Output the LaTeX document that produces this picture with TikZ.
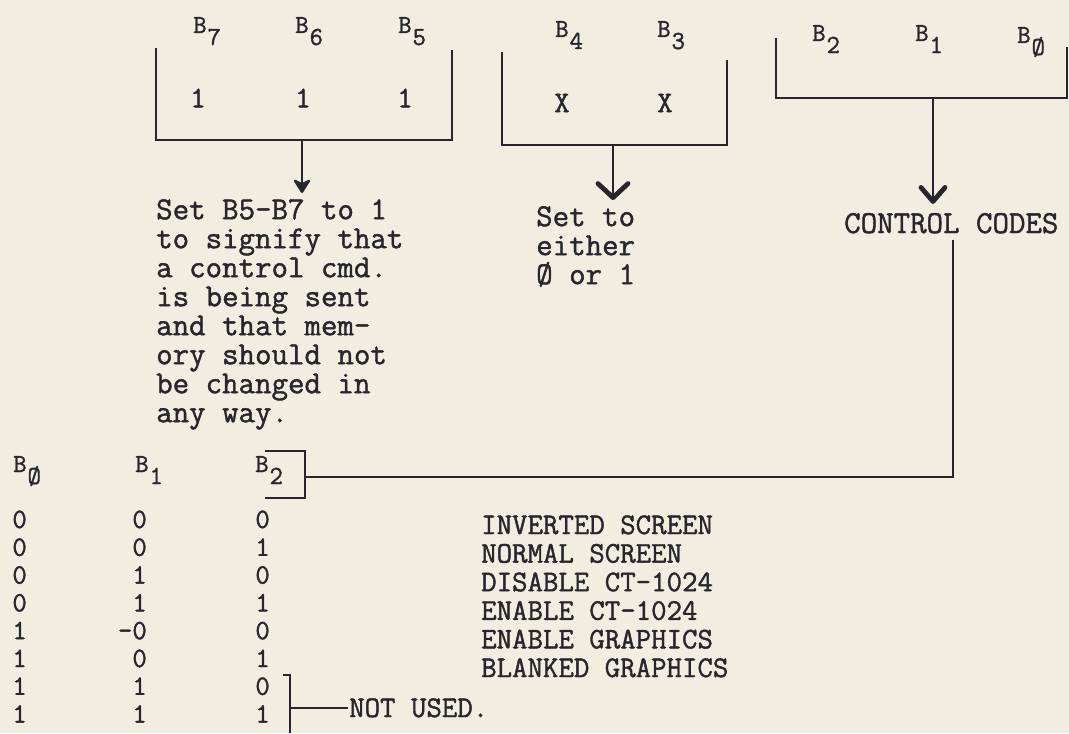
\documentclass[tikz,border=0pt]{standalone}
\usepackage{fontspec}
\setmonofont{Latin Modern Mono}[FakeBold=1.3]
\usetikzlibrary{arrows.meta}
\definecolor{paper}{HTML}{F1EDE1}
\definecolor{ink}{HTML}{26262C}
\tikzset{
  every picture/.style={line width=1.2pt, color=ink},
  bar/.style={draw=ink, line width=1.2pt},
  hdr/.style={font=\ttfamily, anchor=base west, inner sep=0pt},
  val/.style={font=\ttfamily\fontsize{15}{15}\selectfont, inner sep=0pt},
  note/.style={font=\ttfamily\fontsize{16}{14.5}\selectfont, align=left, anchor=north west, inner sep=0pt},
  cell/.style={font=\ttfamily\fontsize{14}{14}\selectfont, anchor=base east, inner sep=0pt},
  code/.style={font=\ttfamily\fontsize{15}{15}\selectfont, anchor=base west, inner sep=0pt},
  fatarrow/.style={-{Stealth[length=8pt, width=10pt, inset=2.5pt, round]}, draw=ink, line width=1.2pt},
  barb/.style={-{Straight Barb[length=7pt, width=#1, line width=2.4pt, round]}, draw=ink, line width=1.2pt},
  barb/.default=14pt,
}
\begin{document}
\begin{tikzpicture}[x=0.5pt, y=-0.5pt]
  \newcommand{\bit}[1]{{\fontsize{13}{13}\selectfont B}\kern0.5pt\raisebox{-6pt}{\fontsize{13}{13}\selectfont #1}}
  \fill[paper] (0,0) rectangle (1069,733);
  \useasboundingbox (0,0) rectangle (1069,733);

  % upper bits B7..B5
  \node[hdr] (b7) at (192,33) {\bit{7}};
  \node[hdr] (b6) at (294,33) {\bit{6}};
  \node[hdr] (b5) at (397,33) {\bit{5}};
  \node[val] (v7) at (198,98) {1};
  \node[val] (v6) at (303,98) {1};
  \node[val] (v5) at (405,98) {1};
  \draw[bar] (156,48) |- (452,140) -- (452,50);
  \coordinate (k1) at (302,140);
  \node[note] (setnote) at (155,198) {Set B5-B7 to 1\\to signify that\\a control cmd.\\is being sent\\and that mem-\\ory should not\\be changed in\\any way.};
  \draw[fatarrow, shorten >=2.5pt] (k1) -- (k1 |- setnote.north);

  % don't care bits B4, B3
  \node[hdr] (b4) at (554,37) {\bit{4}};
  \node[hdr] (b3) at (656,37) {\bit{3}};
  \node[val] (v4) at (562,103) {X};
  \node[val] (v3) at (665,103) {X};
  \draw[bar] (502,52) |- (727,145) -- (727,60);
  \coordinate (k2) at (613,145);
  \node[note] (eithernote) at (535,205) {Set to\\either\\Ø or 1};
  \draw[barb=15pt, shorten >=2.5pt] (k2) -- (k2 |- eithernote.north);

  % control bits B2..B0
  \node[hdr] (b2) at (811,41) {\bit{2}};
  \node[hdr] (b1) at (914,41) {\bit{1}};
  \node[hdr] (b0) at (1016,43) {\bit{Ø}};
  \draw[bar] (776,38) |- (1067,98) -- (1067,47);
  \coordinate (k3) at (933,98);
  \node[code, font=\ttfamily\fontsize{16}{16}\selectfont] (ctrl) at (843,233) {CONTROL CODES};
  \draw[barb=12pt, shorten >=4pt] (k3) -- (k3 |- ctrl.north);

  % table of codes
  \node[hdr] (t0) at (12,472) {\bit{Ø}};
  \node[hdr] (t1) at (134,472) {\bit{1}};
  \node[hdr] (t2) at (254,472) {\bit{2}};
  \draw[bar] (265,451) -| (305,498) -- (265,498);
  \coordinate (tbr) at (305,477);
  \coordinate (turn) at (953,477);
  \draw[bar, shorten <=2.5pt] (ctrl.south -| turn) -- (turn) -- (tbr);

  \foreach \a/\b/\c [count=\i from 0] in {0/0/0, 0/0/1, 0/1/0, 0/1/1, 1/-0/0, 1/0/1, 1/1/0, 1/1/1} {
    \node[cell] (ca-\i) at (28,528+27.8*\i) {\a};
    \node[cell] (cb-\i) at (148,528+27.8*\i) {\b};
    \node[cell] (cc-\i) at (271,528+27.8*\i) {\c};
  }
  \foreach \t [count=\i from 0] in {INVERTED SCREEN, NORMAL SCREEN, DISABLE CT-1024, ENABLE CT-1024, ENABLE GRAPHICS, BLANKED GRAPHICS}
    \node[code] (d-\i) at (480,534+28.6*\i) {\t};

  % unused codes
  \node[code] (nu) at (348,717) {NOT USED.};
  \draw[bar] (283,675) -| (290,733);
  \coordinate (nub) at (290,705);
  \draw[bar] (nu.west -| nub) -- (nu.west);
\end{tikzpicture}
\end{document}
